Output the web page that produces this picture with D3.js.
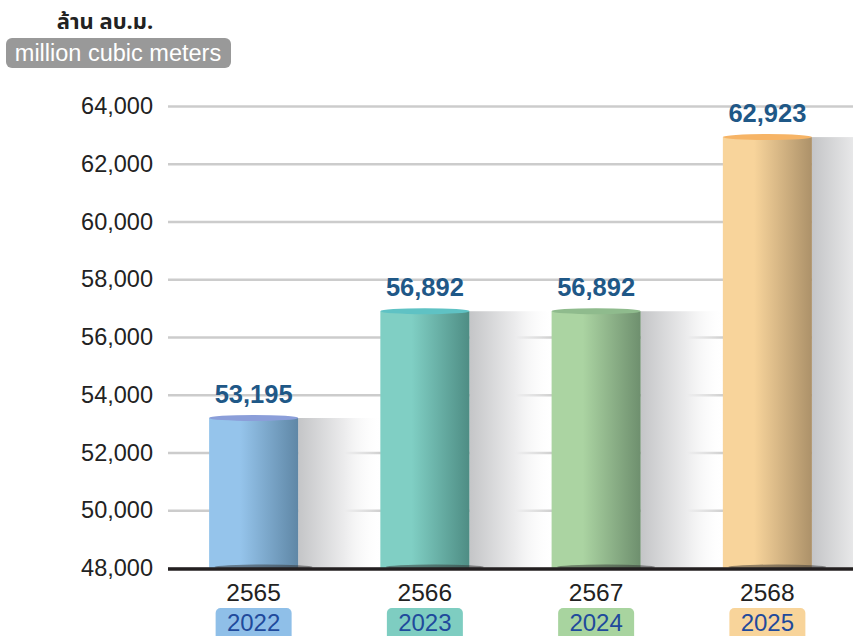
<!DOCTYPE html>
<html>
<head>
<meta charset="utf-8">
<script src="https://cdn.jsdelivr.net/npm/d3@7"></script>
<style>
  body { margin: 0; background: #fff; }
  svg { display: block; font-family: "Liberation Sans", "DejaVu Sans", sans-serif; }
</style>
</head>
<body>
<svg width="853" height="636"></svg>
<script>
// data
const thaiYears = ["2565", "2566", "2567", "2568"];
const adYears = ["2022", "2023", "2024", "2025"];
const volumes = [53195, 56892, 56892, 62923];
const yTicks = [48000, 50000, 52000, 54000, 56000, 58000, 60000, 62000, 64000];

// per-bar colours: light side, dark side, top cap, badge
const lightCols = ["#95c4eb", "#80cfc4", "#abd4a2", "#f8d49b"];
const darkCols = ["#5f87a6", "#4e8d84", "#6e8f6e", "#ac9169"];
const capCols = ["#8b9ed9", "#5fc2c4", "#8fbb8d", "#f6b466"];
const badgeCols = ["#8fbfe8", "#7ecdc1", "#a8d49f", "#f8d49a"];

let svg = d3.select("svg");
let defs = svg.append("defs");

let margin = {top: 106, right: 0, bottom: 68, left: 168};
let width = 853 - margin.left - margin.right;
let height = 636 - margin.top - margin.bottom;

let xScale = d3.scaleBand().domain(thaiYears).range([0, width]).paddingInner(0.48).paddingOuter(0.24);
let yScale = d3.scaleLinear().domain([48000, 64000]).range([height, 0]);

let g = svg.append("g").attr("transform", "translate(" + margin.left + "," + margin.top + ")");

// gradients
thaiYears.forEach(function (k, i) {
    let gr = defs.append("linearGradient").attr("id", "bar" + i).attr("x1", "0").attr("x2", "1");
    gr.append("stop").attr("offset", "0").attr("stop-color", lightCols[i]);
    gr.append("stop").attr("offset", "0.35").attr("stop-color", lightCols[i]);
    gr.append("stop").attr("offset", "1").attr("stop-color", darkCols[i]);
});
let sh = defs.append("linearGradient").attr("id", "shade").attr("x1", "0").attr("x2", "1");
sh.append("stop").attr("offset", "0").attr("stop-color", "#c4c5c7");
sh.append("stop").attr("offset", "0.55").attr("stop-color", "#ececed");
sh.append("stop").attr("offset", "1").attr("stop-color", "#ffffff").attr("stop-opacity", 0);

// grid
g.append("g")
    .call(d3.axisLeft(yScale).tickValues(yTicks).tickSize(-width).tickFormat(d3.format(",")).tickPadding(15))
    .call(function (a) {
        a.select(".domain").remove();
        a.selectAll(".tick line").attr("stroke", "#cccccc").attr("stroke-width", 2.5);
        a.selectAll(".tick text").attr("font-size", "23.5px").attr("fill", "#222").attr("x", -15);
    });

let bw = xScale.bandwidth();

// shadows behind
g.selectAll(".shadow").data(volumes).enter().append("rect")
    .attr("x", function (d, i) { return xScale(thaiYears[i]) + bw; })
    .attr("y", function (d) { return yScale(d); })
    .attr("width", bw * 0.95)
    .attr("height", function (d) { return height - yScale(d); })
    .attr("fill", "url(#shade)");

// bars
g.selectAll(".bar").data(volumes).enter().append("rect")
    .attr("x", function (d, i) { return xScale(thaiYears[i]); })
    .attr("y", function (d) { return yScale(d); })
    .attr("width", bw)
    .attr("height", function (d) { return height - yScale(d); })
    .attr("fill", function (d, i) { return "url(#bar" + i + ")"; });

// top caps
g.selectAll(".cap").data(volumes).enter().append("ellipse")
    .attr("cx", function (d, i) { return xScale(thaiYears[i]) + bw / 2; })
    .attr("cy", function (d) { return yScale(d); })
    .attr("rx", bw / 2)
    .attr("ry", 3)
    .attr("fill", function (d, i) { return capCols[i]; });

// base shadow
g.selectAll(".base").data(volumes).enter().append("ellipse")
    .attr("cx", function (d, i) { return xScale(thaiYears[i]) + bw / 2 + 10; })
    .attr("cy", height - 1)
    .attr("rx", bw * 0.55)
    .attr("ry", 2.5)
    .attr("fill", "#333")
    .attr("opacity", 0.5);

// baseline
g.append("line")
    .attr("x1", 0).attr("x2", width)
    .attr("y1", height + 1).attr("y2", height + 1)
    .attr("stroke", "#231f20").attr("stroke-width", 3.5);

// value labels
g.selectAll(".val").data(volumes).enter().append("text")
    .attr("x", function (d, i) { return xScale(thaiYears[i]) + bw / 2; })
    .attr("y", function (d) { return yScale(d) - 15; })
    .attr("text-anchor", "middle")
    .attr("font-size", "25.5px")
    .attr("font-weight", "bold")
    .attr("fill", "#1f5887")
    .text(function (d) { return d3.format(",")(d); });

// x labels
g.selectAll(".xl").data(thaiYears).enter().append("text")
    .attr("x", function (d) { return xScale(d) + bw / 2; })
    .attr("y", height + 33)
    .attr("text-anchor", "middle")
    .attr("font-size", "24.5px")
    .attr("fill", "#222")
    .text(function (d) { return d; });

// year badges
g.selectAll(".badge").data(adYears).enter().append("rect")
    .attr("x", function (d, i) { return xScale(thaiYears[i]) + bw / 2 - 38; })
    .attr("y", height + 40)
    .attr("width", 76)
    .attr("height", 34)
    .attr("rx", 5)
    .attr("fill", function (d, i) { return badgeCols[i]; });

g.selectAll(".badgeText").data(adYears).enter().append("text")
    .attr("x", function (d, i) { return xScale(thaiYears[i]) + bw / 2; })
    .attr("y", height + 63)
    .attr("text-anchor", "middle")
    .attr("font-size", "24px")
    .attr("fill", "#1f4a9c")
    .text(function (d) { return d; });

// unit title
svg.append("text")
    .attr("x", 105).attr("y", 29)
    .attr("text-anchor", "middle")
    .attr("font-size", "22px")
    .attr("font-weight", "bold")
    .attr("font-family", "'Noto Sans', 'Noto Sans Thai', sans-serif")
    .attr("fill", "#222")
    .text("ล้าน ลบ.ม.");

svg.append("rect")
    .attr("x", 6).attr("y", 38)
    .attr("width", 225).attr("height", 30)
    .attr("rx", 6)
    .attr("fill", "#999999");

svg.append("text")
    .attr("x", 118).attr("y", 61)
    .attr("text-anchor", "middle")
    .attr("font-size", "23.5px")
    .attr("fill", "#fff")
    .text("million cubic meters");
</script>
</body>
</html>
